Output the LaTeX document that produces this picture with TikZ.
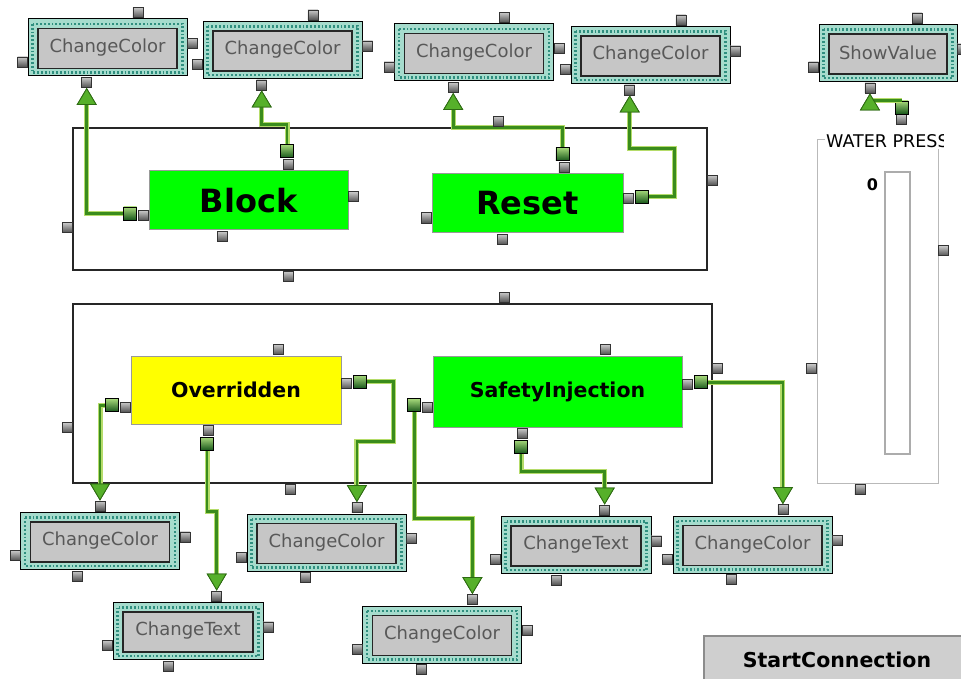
\documentclass[tikz,border=0pt]{standalone}
\usepackage{fontspec}
\setmainfont{DejaVu Sans}
\usepackage{xcolor}
\usepackage{tikz}
\usetikzlibrary{calc}
\usetikzlibrary{arrows.meta}
\usetikzlibrary{shapes}
\usetikzlibrary{positioning}
\tikzset{>=latex}

\definecolor{mint}{HTML}{A6DCCD}
\definecolor{dotteal}{HTML}{2F8F7F}
\definecolor{btngrey}{HTML}{C6C6C6}
\definecolor{txtgrey}{HTML}{585858}
\definecolor{onGreen}{HTML}{00FF00}
\definecolor{ovrYellow}{HTML}{FFFF00}
\definecolor{wiregreen}{HTML}{3A8C1C}
\definecolor{wirelight}{HTML}{B5DC6A}
\definecolor{tipgreen}{HTML}{56B02A}
\definecolor{tipdark}{HTML}{2D6A12}
\definecolor{portlight}{HTML}{C8C8C8}
\definecolor{portdark}{HTML}{505050}
\definecolor{pluglight}{HTML}{A5D77A}
\definecolor{plugdark}{HTML}{17561A}
\definecolor{btnface}{HTML}{CFCFCF}
\definecolor{btnedge}{HTML}{8C8C8C}

\newcommand{\actfont}{\fontsize{18}{20}\selectfont}
\newcommand{\bigfont}{\fontsize{32}{36}\selectfont\bfseries}
\newcommand{\midfont}{\fontsize{20.5}{24}\selectfont\bfseries}
\newcommand{\numfont}{\fontsize{16}{18}\selectfont\bfseries}
\newcommand{\lblfont}{\fontsize{17.5}{19}\selectfont}

\tikzstyle{dotring} = [draw = dotteal, line width = 2.2pt, dash pattern = on 1.8pt off 2pt]
\tikzstyle{act} = [draw = black, line width = 1pt, fill = mint, minimum width = 159pt, minimum height = 57pt, inner sep = 0, font = \actfont, text = txtgrey, path picture = {
  \draw [dotring] ([shift = {(4.5pt, -5pt)}]path picture bounding box.north west) rectangle ([shift = {(-4.5pt, 3.5pt)}]path picture bounding box.south east);
  \draw [fill = btngrey, draw = black!85, line width = 1.5pt] ([shift = {(10pt, -9.5pt)}]path picture bounding box.north west) rectangle ([shift = {(-10pt, 7.5pt)}]path picture bounding box.south east);
}]
\tikzstyle{state} = [draw = gray!80, line width = 1pt, fill = onGreen, inner sep = 0]
\tikzstyle{grp} = [draw = black!85, line width = 1.3pt, inner sep = 0]
\tikzstyle{port} = [draw = black!80, line width = 0.8pt, top color = portlight, bottom color = portdark, minimum size = 10pt, inner sep = 0]
\tikzstyle{plug} = [draw = black, line width = 0.8pt, top color = pluglight, bottom color = plugdark, minimum size = 13pt, inner sep = 0]
\tikzstyle{wire} = [draw = wiregreen, line width = 2.8pt, preaction = {draw = wirelight, line width = 5pt}, -{Triangle[width = 20pt, length = 17pt, line width = 0.8pt, color = tipdark, fill = tipgreen]}]
\tikzstyle{btn} = [fill = btnface, draw = btnedge, line width = 2pt, minimum width = 266pt, minimum height = 48pt, font = \midfont]

\newcommand{\addports}[5]{%
  \node [port] (#1-t) at ($(#1.north west)!#2!(#1.north east) + (0, -6)$) {};
  \node [port] (#1-r) at ($(#1.north east)!#3!(#1.south east) + (5, 0)$) {};
  \node [port] (#1-l) at ($(#1.north west)!#4!(#1.south west) + (-5, 0)$) {};
  \node [port] (#1-b) at ($(#1.south west)!#5!(#1.south east) + (0, 6)$) {};
}

\begin{document}
\begin{tikzpicture}[x = 1pt, y = -1pt]
\useasboundingbox (0, 0) rectangle (961, 679);
\clip (0, 0) rectangle (961, 679);

\node [grp, minimum width = 634pt, minimum height = 142pt] (g1) at (390, 199) {};
\node [grp, minimum width = 639pt, minimum height = 179pt] (g2) at (392.5, 393.5) {};

\node [minimum width = 121pt, minimum height = 357pt, inner sep = 0] (gv) at (877.5, 304.5) {};
\node [draw = gray!55, line width = 1pt, minimum width = 121pt, minimum height = 343pt, inner sep = 0] (gf) at (877.5, 311.5) {};
\node [draw = gray!65, line width = 1.5pt, fill = white, minimum width = 25pt, minimum height = 282pt, inner sep = 0] (gbar) at (897.5, 313) {};
\node [font = \numfont, inner sep = 0] (g0) at (872.5, 185) {0};
\begin{scope}
\clip (815, 125) rectangle (943, 160);
\node [fill = white, inner sep = 1pt, anchor = west, font = \lblfont] (glbl) at (825, 141) {WATER PRESS};
\end{scope}
\addports{gv}{.70}{.35}{.68}{.355}

\node [state, minimum width = 199pt, minimum height = 59pt, font = \bigfont] (blk) at (248.5, 200.5) {Block};
\node [state, minimum width = 191pt, minimum height = 59pt, font = \bigfont] (rst) at (527.5, 203.5) {Reset};
\node [state, fill = ovrYellow, minimum width = 210pt, minimum height = 68pt, font = \midfont] (ovr) at (236, 390) {Overridden};
\node [state, minimum width = 249pt, minimum height = 71pt, font = \midfont] (si) at (557.5, 391.5) {SafetyInjection};
\addports{blk}{.70}{.44}{.75}{.37}
\addports{rst}{.69}{.42}{.74}{.37}
\addports{ovr}{.70}{.41}{.75}{.37}
\addports{si}{.69}{.40}{.72}{.36}

\node [act] (c1) at (107.5, 47.5) {ChangeColor};
\node [act] (c2) at (282.5, 50) {ChangeColor};
\node [act] (c3) at (474, 52.5) {ChangeColor};
\node [act] (c4) at (650.5, 55) {ChangeColor};
\node [act, minimum width = 138pt] (sv) at (888, 53) {ShowValue};
\node [act] (c5) at (100, 541) {ChangeColor};
\node [act, minimum width = 150pt] (t1) at (188, 631) {ChangeText};
\node [act] (c6) at (326.5, 542.5) {ChangeColor};
\node [act] (c7) at (442, 634.5) {ChangeColor};
\node [act, minimum width = 150pt] (t2) at (576, 545) {ChangeText};
\node [act] (c8) at (752.5, 544.5) {ChangeColor};
\addports{c1}{.69}{.43}{.75}{.37}
\addports{c2}{.69}{.43}{.75}{.37}
\addports{c3}{.69}{.43}{.75}{.37}
\addports{c4}{.69}{.43}{.75}{.37}
\addports{sv}{.71}{.43}{.74}{.37}
\addports{c5}{.50}{.43}{.75}{.36}
\addports{t1}{.69}{.43}{.75}{.37}
\addports{c6}{.69}{.43}{.75}{.37}
\addports{c7}{.69}{.43}{.75}{.37}
\addports{t2}{.69}{.43}{.75}{.37}
\addports{c8}{.69}{.43}{.75}{.37}

\node [plug, left = 1pt of blk-l, yshift = 2pt] (blk-lp) {};
\node [plug, above = 1pt of blk-t, xshift = -1.5pt] (blk-tp) {};
\node [plug, above = 1pt of rst-t, xshift = -1.5pt] (rst-tp) {};
\node [plug, right = 1pt of rst-r, yshift = 2pt] (rst-rp) {};
\node [plug, right = 1pt of ovr-r, yshift = 2pt] (ovr-rp) {};
\node [plug, left = 1pt of ovr-l, yshift = 2pt] (ovr-lp) {};
\node [plug, below = 1pt of ovr-b, xshift = -1.5pt] (ovr-bp) {};
\node [plug, left = 1pt of si-l, yshift = 2pt] (si-lp) {};
\node [plug, below = 1pt of si-b, xshift = -1.5pt] (si-bp) {};
\node [plug, right = 1pt of si-r, yshift = 2pt] (si-rp) {};
\node [plug, above = 0pt of gv-t] (gv-tp) {};

\draw [wire] (blk-lp.west) -| (c1-b.south);
\draw [wire] (blk-tp.north) -- ++(0, -20) -| (c2-b.south);
\draw [wire] (rst-tp.north) -- ++(0, -20) -| (c3-b.south);
\draw [wire] (rst-rp.east) -- ++(26, 0) -- ++(0, -48) -| (c4-b.south);
\draw [wire] (ovr-rp.east) -- ++(27, 0) -- ++(0, 60) -| (c6-t.north);
\draw [wire] (ovr-lp.west) -| (c5-t.north);
\draw [wire] (ovr-bp.south) -- ++(0, 61) -| (t1-t.north);
\draw [wire] (si-lp.south) -- ++(0, 106) -| (c7-t.north);
\draw [wire] (si-bp.south) -- ++(0, 18) -| (t2-t.north);
\draw [wire] (si-rp.east) -| (c8-t.north);
\draw [wire] (gv-tp.north) -| (sv-b.south);

\addports{g1}{.67}{.37}{.70}{.34}
\addports{g2}{.675}{.36}{.69}{.34}

\node [btn] (start) at (837, 660) {StartConnection};
\end{tikzpicture}
\end{document}
